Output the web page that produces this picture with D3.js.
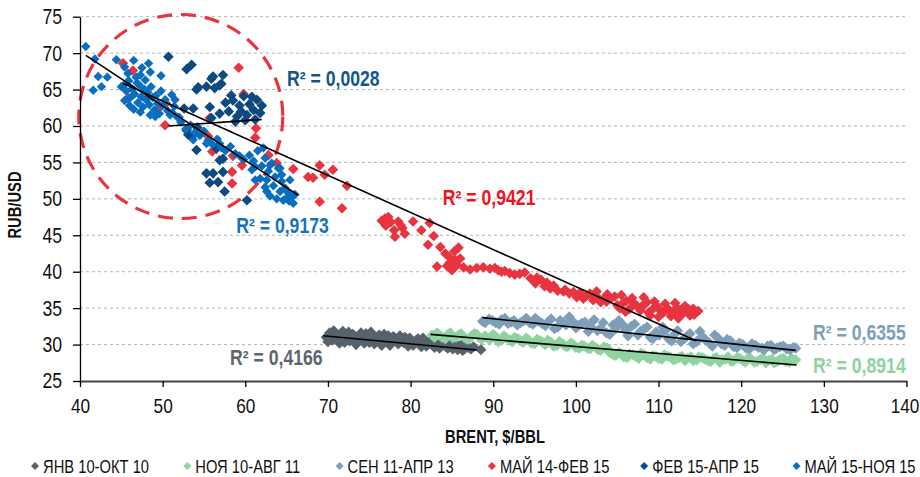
<!DOCTYPE html>
<html><head><meta charset="utf-8">
<script src="https://cdn.jsdelivr.net/npm/d3@7"></script>
<style>
html,body{margin:0;padding:0;background:#fff;}
svg{display:block;font-family:"Liberation Sans",Arial,sans-serif;}
</style></head>
<body><svg id="c" width="920" height="477"></svg>
<script>
// ---------- DATA ----------
const xTicks = [40,50,60,70,80,90,100,110,120,130,140];
const yTicks = [25,30,35,40,45,50,55,60,65,70,75];
const seriesNames = ["ЯНВ 10-ОКТ 10","НОЯ 10-АВГ 11","СЕН 11-АПР 13","МАЙ 14-ФЕВ 15","ФЕВ 15-АПР 15","МАЙ 15-НОЯ 15"];
const r2Labels = ["R² = 0,4166","R² = 0,8914","R² = 0,6355","R² = 0,9421","R² = 0,0028","R² = 0,9173"];

const janOct10 = [[69.8,31.0],[70.2,31.6],[70.5,30.6],[71.0,31.3],[71.4,30.2],[71.8,31.8],[72.3,31.0],[72.6,30.5],[73.0,31.4],[73.4,30.0],[73.8,31.1],[74.2,30.7],[74.6,31.5],[75.0,30.3],[75.4,31.0],[75.8,30.6],[76.2,31.3],[76.5,29.9],[77.0,30.8],[77.3,31.2],[77.7,30.4],[78.1,30.9],[78.5,30.1],[78.9,30.6],[79.3,31.0],[79.7,29.8],[80.1,30.5],[80.5,30.2],[80.9,30.8],[81.3,29.7],[81.7,30.4],[82.1,30.0],[82.5,30.6],[82.9,29.6],[83.3,30.2],[83.7,29.9],[84.1,30.4],[84.5,29.5],[84.9,30.0],[85.3,29.7],[85.7,29.3],[86.1,29.9],[86.5,29.4],[87.0,29.6],[88.5,29.3],
  [70.0,30.4],[70.7,31.9],[71.2,30.8],[71.6,31.5],[72.0,30.3],[72.5,31.7],[72.9,30.8],[73.2,31.2],[73.6,30.5],[74.0,31.6],[74.4,30.2],[74.8,30.9],[75.2,31.7],[75.6,30.1],[76.0,31.0],[76.4,30.5],[76.8,31.4],[77.5,29.9],[77.9,31.1],[78.3,30.5],[78.7,31.2],[79.1,30.3],[79.5,30.8],[79.9,30.9],[80.3,29.9],[80.7,30.6],[81.1,30.1],[81.5,30.9],[81.9,29.8],[82.3,30.3],[82.7,29.9],[83.1,30.7],[83.5,29.5],[83.9,30.1],[84.3,29.7],[84.7,30.3],[85.1,29.4],[85.5,30.1],[85.9,29.6],[86.3,29.2],[86.7,29.8],[87.3,29.4],[87.6,29.7]];

const nov10Aug11 = [[82.6,31.3],[83.2,31.6],[83.8,31.0],[84.5,31.4],[85.1,30.9],[85.8,31.3],[86.4,31.1],[87.0,30.7],[87.7,31.5],[88.3,31.0],[89.0,31.2],[89.6,30.7],[90.3,31.1],[91.0,30.6],[91.6,30.9],[92.3,30.4],[93.0,30.8],[93.6,30.3],[94.3,30.6],[95.0,30.1],[95.7,30.5],[96.3,30.0],[97.0,30.3],[97.7,29.9],[98.4,30.1],[99.0,29.7],[99.7,30.0],[100.4,29.5],[101.0,29.8],[101.7,29.4],[102.4,29.6],[103.0,29.2],[103.8,29.5],[104.5,28.6],[105.2,28.9],[105.8,28.3],[106.5,28.7],[107.2,28.4],[107.9,28.8],[108.6,28.2],[109.3,28.5],[110.0,28.1],[110.7,28.6],[111.4,28.3],[112.1,28.0],[112.8,28.4],[113.5,28.1],[114.2,27.8],[114.9,28.3],[115.6,28.0],[116.3,27.7],[117.0,28.2],[117.7,27.9],[118.4,28.3],[119.1,27.8],[119.8,28.1],[120.5,27.6],[121.2,28.0],[121.9,27.7],[122.6,28.2],[123.3,27.8],[124.0,27.5],[124.7,28.0],[125.4,27.7],[126.1,28.1],[126.6,27.9],
  [82.9,31.0],[83.5,31.3],[84.2,30.8],[84.8,31.6],[85.5,31.0],[86.1,31.5],[86.7,30.8],[87.4,31.2],[88.0,31.4],[88.6,30.7],[89.3,30.9],[90.0,31.4],[90.6,30.4],[91.3,31.2],[92.0,30.6],[92.6,31.0],[93.3,30.5],[94.0,30.9],[94.6,30.2],[95.3,30.7],[96.0,30.3],[96.6,30.6],[97.3,29.8],[98.0,30.4],[98.7,29.8],[99.4,30.2],[100.0,29.6],[100.7,29.9],[101.4,29.5],[102.0,29.9],[102.7,29.3],[103.4,29.7],[104.1,28.9],[104.8,28.5],[105.5,28.7],[106.2,28.2],[106.9,28.6],[107.6,28.1],[108.3,28.6],[109.0,28.0],[109.7,28.4],[110.4,28.0],[111.1,28.4],[111.8,27.9],[112.5,28.2],[113.2,27.8],[113.9,28.3],[114.6,27.9],[115.3,28.2],[116.0,27.8],[116.7,28.1],[117.4,27.6],[118.1,28.0],[118.8,27.7],[119.5,28.2],[120.2,27.8],[120.9,28.2],[121.6,27.6],[122.3,27.9],[123.0,27.5],[123.7,28.0],[124.4,27.7],[125.1,28.1],[125.8,27.6],[126.4,27.8]];

const sep11Apr13 = [[88.7,33.2],[89.5,33.5],[90.3,33.0],[91.0,33.4],[91.8,32.9],[92.5,33.3],[93.3,33.0],[94.0,33.6],[94.8,32.8],[95.5,33.2],[96.3,32.6],[97.0,33.5],[97.8,32.4],[98.5,33.0],[99.2,33.8],[100.0,32.3],[100.7,32.9],[101.5,31.8],[102.2,33.4],[103.0,32.2],[103.7,31.6],[104.5,32.7],[105.2,33.3],[106.0,31.9],[106.7,32.5],[107.5,31.3],[108.2,32.1],[109.0,31.0],[109.7,31.7],[110.5,32.4],[111.2,30.8],[112.0,31.5],[112.7,30.4],[113.5,31.2],[114.2,30.1],[115.0,31.8],[115.7,30.6],[116.5,29.8],[117.2,30.9],[118.0,29.9],[118.7,30.5],[119.5,29.6],[120.2,30.0],[121.0,29.4],[121.7,29.9],[122.5,29.5],[123.2,29.8],[124.0,29.3],[124.7,29.7],[125.5,29.4],[126.3,29.6],
  [89.0,33.0],[89.9,33.3],[90.7,32.8],[91.4,33.6],[92.2,33.1],[92.9,32.7],[93.7,33.3],[94.4,33.0],[95.1,33.6],[95.9,32.9],[96.6,33.1],[97.4,32.2],[98.1,33.3],[98.8,32.7],[99.6,33.2],[100.3,32.6],[101.1,33.1],[101.8,32.4],[102.6,31.9],[103.3,33.0],[104.1,31.4],[104.8,32.2],[105.6,32.8],[106.3,31.2],[107.1,32.8],[107.8,31.8],[108.6,32.4],[109.3,30.8],[110.1,31.3],[110.8,31.9],[111.6,30.5],[112.3,31.9],[113.1,30.8],[113.8,31.5],[114.6,30.4],[115.3,31.1],[116.1,30.3],[116.8,31.3],[117.6,30.1],[118.3,30.7],[119.1,29.7],[119.8,30.2],[120.6,29.5],[121.3,30.1],[122.1,29.6],[122.8,29.3],[123.6,29.9],[124.3,29.5],[125.1,29.8],[125.9,29.3],[126.6,29.5]];

const may14Feb15 = [[45.2,68.6],[46.4,67.6],[45.8,63.8],[49.7,62.6],[50.4,63.1],[50.3,60.1],[59.2,68.0],[59.8,64.4],[61.3,59.7],[61.2,58.4],[55.7,61.1],[55.5,58.6],[56.0,56.5],[58.5,55.9],[59.6,54.6],[58.4,53.7],[58.4,52.1],[62.8,56.0],[63.8,54.9],[65.8,54.1],[67.6,53.0],[68.2,52.9],[69.0,54.6],[69.6,53.3],[70.6,54.0],[72.3,51.8],[69.0,49.6],[71.7,48.7],[76.5,47.0],[77.0,46.3],[77.3,47.5],[77.6,46.8],[78.0,45.7],[78.5,46.9],[79.0,46.0],[79.3,45.2],[78.1,44.8],[80.3,46.9],[81.3,45.7],[82.3,46.7],[82.8,44.9],[82.1,43.7],[83.6,43.4],[84.2,42.5],[84.8,41.3],[85.3,42.8],[85.6,40.9],[85.0,40.2],[86.0,41.8],[84.4,40.8],[85.8,43.3],[83.2,40.7],[86.4,40.6],[88.0,40.5],[89.6,40.4],[90.2,40.5],[91.0,40.0],[91.4,40.1],[92.0,39.8],[93.2,39.7],[95.3,39.2],[95.1,38.4],[96.5,38.5],[96.9,37.7],[98.5,37.3],[98.7,37.5],[99.7,37.2],[100.1,36.5],[101.3,36.7],[101.7,37.0],[102.1,36.1],[103.3,36.2],[103.7,35.9],[104.7,36.6],[105.3,35.0],[105.7,35.7],[106.5,34.9],[107.0,35.7],[108.0,35.2],[108.6,35.8],[109.0,34.0],[109.4,35.0],[110.2,34.7],[111.0,35.0],[111.5,33.9],[111.8,34.3],[112.5,34.6],[113.0,35.0],[113.4,34.6],[113.8,34.0],[114.0,34.3],[114.6,34.5],[114.8,34.6],
  [87.2,40.3],[88.8,40.6],[90.6,40.2],[92.6,39.6],[93.8,39.9],[94.5,39.1],[95.8,38.9],[96.2,38.0],[97.3,38.1],[97.8,37.4],[99.2,37.0],[100.5,37.1],[100.9,36.3],[102.6,36.5],[103.0,35.8],[104.2,36.3],[105.0,35.4],[106.1,36.0],[107.4,35.3],[107.8,34.7],[108.3,35.6],[109.8,35.3],[110.6,34.4],[111.3,34.7],[112.2,35.1],[112.9,34.2],[113.7,34.8],[114.3,34.1],[76.9,47.3],[78.8,46.4],[85.4,41.6],[84.7,42.0],
  [102.5,37.3],[103.8,36.9],[105.5,36.8],[106.8,36.4],[108.2,36.5],[109.5,35.9],[110.8,35.6],[112.0,35.7],[113.2,35.3],[106.0,34.5],[108.8,34.4],[110.0,33.8],[112.4,33.6],[114.2,34.9]];

const feb15Apr15 = [[50.7,69.5],[52.9,67.8],[53.5,68.4],[54.1,65.0],[54.3,65.3],[55.3,65.4],[55.9,66.5],[56.1,66.8],[56.3,65.2],[56.9,65.6],[57.3,67.0],[57.1,65.8],[52.6,62.4],[53.7,62.4],[55.7,62.6],[56.9,61.7],[55.9,61.1],[58.0,62.0],[58.5,63.5],[59.0,61.3],[59.3,62.8],[59.8,64.1],[60.2,61.5],[60.5,63.0],[61.0,62.2],[61.4,63.6],[61.8,61.8],[62.0,62.8],[58.8,60.6],[60.0,60.8],[57.6,63.2],[61.2,60.9],[59.5,62.0],[60.8,64.0],[58.3,64.2],[53.1,58.8],[53.5,58.5],[54.1,56.7],[55.3,53.5],[56.1,53.5],[57.3,53.7],[57.5,51.0],[55.7,52.2],[56.7,52.3],[60.2,49.8],[56.9,55.3],[56.5,56.9],[57.3,55.5],[52.9,59.4],[54.2,59.8]];

const may15Nov15 = [[40.7,70.9],[41.8,69.2],[42.2,66.8],[43.3,66.7],[41.6,64.9],[42.6,65.4],[44.4,69.1],[45.4,68.1],[46.5,69.0],[47.5,68.0],[48.3,68.6],[48.5,67.4],[49.8,66.9],[45.0,65.4],[45.8,66.1],[47.3,67.0],[45.2,65.5],[45.6,64.8],[45.9,66.2],[46.1,63.9],[46.3,65.1],[46.6,64.4],[46.8,66.7],[47.0,63.2],[47.2,65.6],[47.4,64.0],[47.6,62.6],[47.8,65.0],[48.0,63.6],[48.2,64.6],[48.4,62.9],[48.6,65.4],[48.8,63.9],[49.0,62.2],[49.2,64.2],[49.4,63.1],[49.6,61.7],[49.8,64.8],[50.0,62.8],[50.3,63.6],[50.6,62.1],[46.0,62.8],[46.5,62.3],[47.3,61.9],[45.4,63.5],[48.5,61.5],[46.9,65.9],[47.9,66.3],[45.8,67.2],[50.9,61.5],[51.4,62.7],[51.8,61.2],[51.1,64.3],[51.5,63.6],[49.1,61.3],[52.2,60.5],[52.8,59.6],[53.4,60.1],[53.9,59.1],[54.5,58.7],[55.0,59.3],[55.5,58.0],[56.0,57.5],[56.6,58.2],[57.1,57.0],[57.6,56.6],[58.2,57.2],[58.8,56.2],[59.3,55.9],[53.7,58.1],[55.3,57.6],[56.9,57.6],[52.0,61.2],[51.2,61.8],[60.5,56.0],[61.0,55.2],[61.5,56.6],[62.0,54.5],[62.4,55.6],[62.8,53.8],[63.2,54.9],[63.6,53.0],[64.0,54.2],[64.4,52.4],[64.8,51.5],[65.2,50.8],[65.6,50.2],[66.0,50.6],[65.3,49.7],[64.6,49.8],[63.8,50.0],[63.0,50.4],[62.4,51.6],[61.8,52.8],[63.4,51.8],[64.2,51.0],[60.8,54.0],[59.8,55.4],[62.2,57.0],[61.2,52.6],[62.6,51.0],[65.0,50.1],[65.8,49.4],[65.4,52.6],[64.4,53.3],[62.6,52.6],[61.2,54.4],[63.0,54.6],[64.2,54.2]];

// trend line end points [brent, rub]
const trendJanOct10 = [[69.4,31.2],[88.0,29.25]];
const trendNov10Aug11 = [[82.4,31.4],[126.7,27.2]];
const trendSep11Apr13 = [[88.7,33.7],[126.6,29.2]];
const trendMay14Feb15 = [[45.2,65.86],[114.6,30.5]];
const trendFeb15Apr15 = [[50.7,60.0],[62.0,60.9]];
const trendMay15Nov15 = [[40.7,69.7],[66.4,50.5]];

// ---------- STYLE / LAYOUT ----------
const allSeries = [janOct10,nov10Aug11,sep11Apr13,may14Feb15,feb15Apr15,may15Nov15];
const allTrends = [trendJanOct10,trendNov10Aug11,trendSep11Apr13,trendMay14Feb15,trendFeb15Apr15,trendMay15Nov15];
const markerColors = ["#56636d","#8fd3a1","#7e9eb9","#e8343f","#0d4a80","#0a6ebf"];
const labelColors  = ["#5b6770","#8fd3a1","#7e9eb9","#f0141c","#14568c","#1472c0"];
const markerHalf   = [5.6,5.6,5.6,5.3,5.3,4.7];
const NARROW = 0.82;
// label anchor (in data units: brent, rub) for each R² label
const labelAnchors = [[58.15,27.2],[128.7,26.1],[128.7,30.6],[83.9,49.2],[65.05,65.5],[58.9,45.3]];

const svg = d3.select("#c");
const x = d3.scaleLinear().domain([40,140]).range([80,906.5]);
const y = d3.scaleLinear().domain([25,75]).range([381,16.7]);

function ntext(parent, px, py, str, size, opts={}){
  return parent.append("text")
    .attr("transform",`translate(${px},${py}) scale(${NARROW},1)`)
    .attr("font-size",size)
    .attr("font-weight",opts.bold?"bold":null)
    .attr("text-anchor",opts.anchor||"start")
    .attr("fill",opts.fill||"#111")
    .text(str);
}

// grid
svg.append("g").selectAll("line").data(yTicks.filter(t=>t>25)).join("line")
  .attr("x1",x(40)).attr("x2",x(140)).attr("y1",d=>y(d)).attr("y2",d=>y(d))
  .attr("stroke","#b4b4b4").attr("stroke-width",1).attr("stroke-dasharray","3,3");

// highlight circle
const circ = {cx:52.2, cy:61.3, r:102};
svg.append("circle").attr("cx",x(circ.cx)).attr("cy",y(circ.cy)).attr("r",circ.r)
  .attr("fill","none").attr("stroke","#e8343f").attr("stroke-width",3.2).attr("stroke-dasharray","15,9");

// axes
const yAx = svg.append("g").attr("transform",`translate(${x(40)},0)`)
  .call(d3.axisLeft(y).tickValues(yTicks).tickSize(7).tickSizeOuter(0).tickPadding(11).tickFormat(d3.format("d")));
yAx.select(".domain").attr("stroke","#000").attr("stroke-width",1.3);
yAx.selectAll(".tick line").attr("stroke","#000").attr("stroke-width",1.3);
yAx.selectAll("text").attr("font-size",21.5).attr("fill","#111").attr("font-family",null)
  .attr("x",null).attr("transform",`translate(-18,0) scale(${NARROW},1)`);

const xAx = svg.append("g").attr("transform",`translate(0,${y(25)})`)
  .call(d3.axisBottom(x).tickValues(xTicks).tickSize(6).tickSizeOuter(0).tickPadding(11).tickFormat(d3.format("d")));
xAx.select(".domain").attr("stroke","#444").attr("stroke-width",2);
xAx.selectAll(".tick line").attr("stroke","#000").attr("stroke-width",1.3);
xAx.selectAll("text").attr("font-size",21).attr("fill","#111").attr("font-family",null)
  .attr("transform",d=>`translate(${d===140?-2:0},0) scale(${NARROW},1)`);

// axis titles
ntext(svg, 495, 443, "BRENT, $/BBL", 18, {bold:true, anchor:"middle"});
svg.append("text").attr("transform",`translate(21,205) rotate(-90) scale(${NARROW},1)`).attr("text-anchor","middle")
  .attr("font-size",18).attr("font-weight","bold").attr("fill","#111").text("RUB/USD");

// markers
const diamond = h => `M0,${-h}L${h},0L0,${h}L${-h},0Z`;
allSeries.forEach((s,i)=>{
  svg.append("g").selectAll("path").data(s).join("path")
    .attr("d",diamond(markerHalf[i]))
    .attr("transform",d=>`translate(${x(d[0])},${y(d[1])})`)
    .attr("fill",markerColors[i]);
});

// trend lines
const line = d3.line().x(d=>x(d[0])).y(d=>y(d[1]));
allTrends.forEach(t=>{
  svg.append("path").attr("d",line(t)).attr("fill","none").attr("stroke","#000").attr("stroke-width",1.6);
});

// R² labels
r2Labels.forEach((t,i)=>{
  ntext(svg, x(labelAnchors[i][0]), y(labelAnchors[i][1]), t, 21.5, {bold:true, fill:labelColors[i]});
});

// legend
const legY = 466, legX0 = 35, legStep = 152.3;
seriesNames.forEach((n,i)=>{
  const g = svg.append("g").attr("transform",`translate(${legX0+i*legStep},${legY})`);
  g.append("path").attr("d",diamond(4)).attr("fill",markerColors[i]);
  ntext(g, 8, 6.5, n, 18);
});
</script></body></html>
